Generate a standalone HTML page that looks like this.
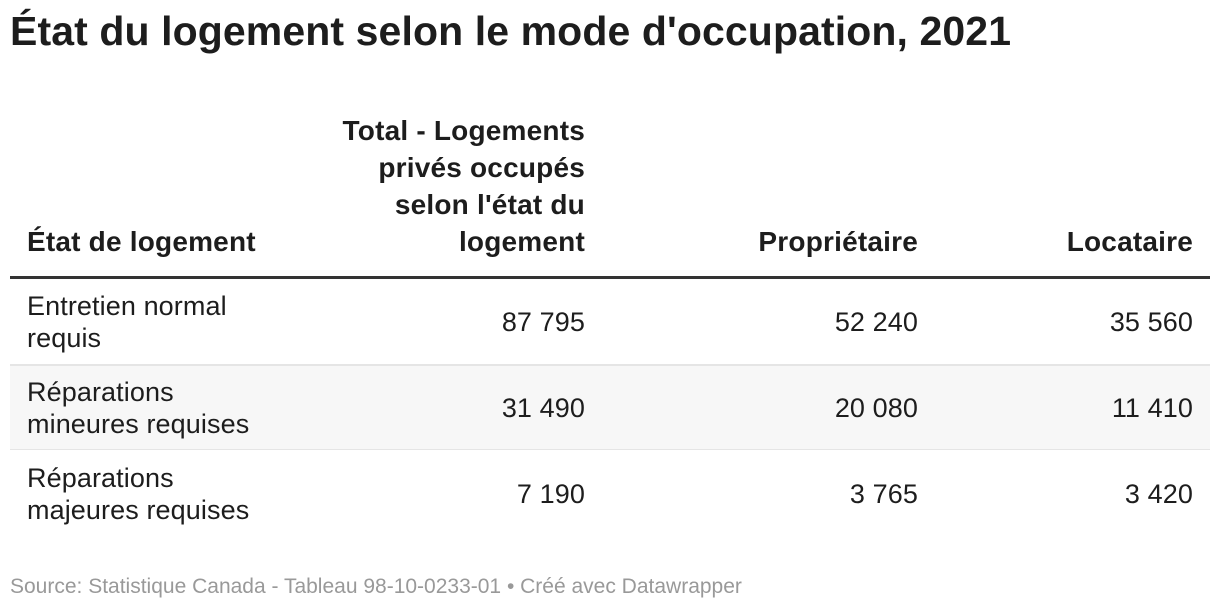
<!DOCTYPE html>
<html><head><meta charset="utf-8"><style>
body{margin:0;width:1220px;height:612px;background:#fff;font-family:"Liberation Sans",sans-serif;color:#1d1d1d;position:relative;overflow:hidden}
.a{position:absolute;white-space:nowrap}
h1{position:absolute;left:10px;top:8px;margin:0;font-size:41px;font-weight:bold;letter-spacing:0.1px}
.h{font-weight:bold;font-size:28px;line-height:37px;letter-spacing:0.2px}
.c{font-size:27px;line-height:32px;letter-spacing:0.1px}
.r{text-align:right}
</style></head><body>
<h1>État du logement selon le mode d'occupation, 2021</h1>
<div>
<div class="a h" style="left:27px;top:223px">État de logement</div>
<div class="a h r" style="right:635px;top:112px">Total - Logements<br>privés occupés<br>selon l'état du<br>logement</div>
<div class="a h r" style="right:302px;top:223px">Propriétaire</div>
<div class="a h r" style="right:27px;top:223px">Locataire</div>
<div class="a" style="left:10px;top:276px;width:1200px;height:3px;background:#333"></div>

<div class="a" style="left:10px;top:364px;width:1200px;height:86px;background:#f7f7f7;border-top:2px solid #e5e5e5;border-bottom:1px solid #e5e5e5;box-sizing:border-box"></div>

<div class="a c" style="left:27px;top:290px">Entretien normal<br>requis</div>
<div class="a c r" style="right:635px;top:306px">87 795</div>
<div class="a c r" style="right:302px;top:306px">52 240</div>
<div class="a c r" style="right:27px;top:306px">35 560</div>

<div class="a c" style="left:27px;top:376px">Réparations<br>mineures requises</div>
<div class="a c r" style="right:635px;top:392px">31 490</div>
<div class="a c r" style="right:302px;top:392px">20 080</div>
<div class="a c r" style="right:27px;top:392px">11 410</div>

<div class="a c" style="left:27px;top:462px">Réparations<br>majeures requises</div>
<div class="a c r" style="right:635px;top:478px">7 190</div>
<div class="a c r" style="right:302px;top:478px">3 765</div>
<div class="a c r" style="right:27px;top:478px">3 420</div>
</div>
<div class="a" style="left:10px;top:575px;font-size:21px;color:#999">Source: Statistique Canada - Tableau 98-10-0233-01 • Créé avec Datawrapper</div>
</body></html>
